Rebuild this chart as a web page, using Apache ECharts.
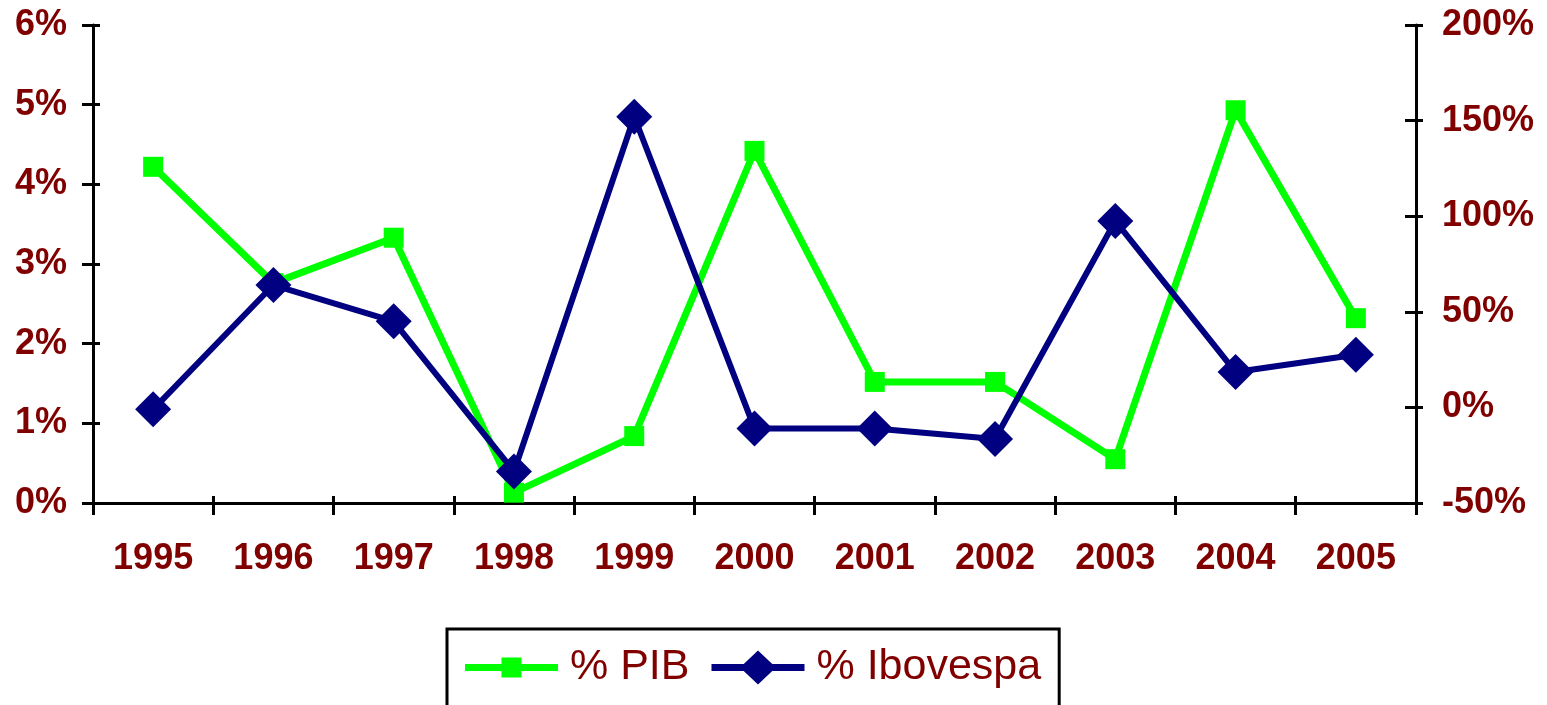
<!DOCTYPE html>
<html>
<head>
<meta charset="utf-8">
<script src="https://cdn.jsdelivr.net/npm/echarts@6/dist/echarts.min.js"></script>
<style>
html,body{margin:0;padding:0;background:#fff;}
#c{width:1547px;height:705px;}
</style>
</head>
<body>
<div id="c"></div>
<script>
const categories = ['1995','1996','1997','1998','1999','2000','2001','2002','2003','2004','2005'];
const pib = [4.22, 2.76, 3.33, 0.13, 0.84, 4.42, 1.52, 1.52, 0.55, 4.93, 2.32];
const ibovespa = [-1, 64, 45, -33.5, 152, -11, -11, -16.5, 97.5, 18.5, 27.5];
const seriesNames = ['% PIB', '% Ibovespa'];

const labelColor = '#800000';
const tickFont = {color: labelColor, fontWeight: 'bold', fontSize: 36, fontFamily: "'Liberation Sans', Arial, sans-serif"};

const iconPib = 'path://M0,6.5H93V13.5H0Z M36.5,0H56.5V20H36.5Z';
const iconIbov = 'path://M0,13.5H93V20.5H0Z M46.5,0L64.5,17L46.5,34L28.5,17Z';

const chart = echarts.init(document.getElementById('c'));
chart.setOption({
  animation: false,
  grid: {left: 93, right: 131, top: 25, bottom: 202, containLabel: false},
  legend: {
    left: 447, top: 629,
    padding: [17, 18, 60, 18],
    borderColor: '#000', borderWidth: 3,
    itemWidth: 93, itemHeight: 34, itemGap: 22,
    symbolKeepAspect: true,
    textStyle: {color: labelColor, fontSize: 43, fontFamily: "'Liberation Sans', Arial, sans-serif", padding: [0, 0, 0, 7]},
    data: [
      {name: seriesNames[0], icon: iconPib},
      {name: seriesNames[1], icon: iconIbov}
    ]
  },
  xAxis: [{
    type: 'category', data: categories, boundaryGap: true,
    axisLine: {lineStyle: {color: '#000', width: 3}},
    axisTick: {show: true, length: 12, interval: 0, lineStyle: {color: '#000', width: 3}},
    axisLabel: Object.assign({margin: 38, interval: 0}, tickFont),
    splitLine: {show: false}
  }, {
    type: 'category', data: categories, boundaryGap: true, position: 'bottom',
    axisLine: {show: false, onZero: false},
    axisTick: {show: true, inside: true, length: 7, interval: 0, lineStyle: {color: '#000', width: 3}},
    axisLabel: {show: false}, splitLine: {show: false}
  }],
  yAxis: [{
    type: 'value', position: 'left', min: 0, max: 6, interval: 1,
    axisLine: {show: true, onZero: false, lineStyle: {color: '#000', width: 3}},
    axisTick: {show: true, length: 11, lineStyle: {color: '#000', width: 3}},
    axisLabel: Object.assign({margin: 26, formatter: '{value}%'}, tickFont),
    splitLine: {show: false}
  }, {
    type: 'value', position: 'right', min: -50, max: 200, interval: 50,
    axisLine: {show: true, onZero: false, lineStyle: {color: '#000', width: 3}},
    axisTick: {show: true, length: 7, lineStyle: {color: '#000', width: 3}},
    axisLabel: Object.assign({margin: 26, formatter: '{value}%'}, tickFont),
    splitLine: {show: false}
  }, {
    type: 'value', position: 'left', min: 0, max: 6, interval: 1,
    axisLine: {show: false, onZero: false},
    axisTick: {show: true, inside: true, length: 7, lineStyle: {color: '#000', width: 3}},
    axisLabel: {show: false}, splitLine: {show: false}
  }, {
    type: 'value', position: 'right', min: -50, max: 200, interval: 50,
    axisLine: {show: false, onZero: false},
    axisTick: {show: true, inside: true, length: 11, lineStyle: {color: '#000', width: 3}},
    axisLabel: {show: false}, splitLine: {show: false}
  }],
  series: [{
    name: seriesNames[0], type: 'line', yAxisIndex: 0, data: pib,
    symbol: 'rect', symbolSize: 20,
    lineStyle: {color: '#00FF00', width: 7},
    itemStyle: {color: '#00FF00'}
  }, {
    name: seriesNames[1], type: 'line', yAxisIndex: 1, data: ibovespa,
    symbol: 'diamond', symbolSize: 36,
    lineStyle: {color: '#000080', width: 6},
    itemStyle: {color: '#000080'}
  }]
});
</script>
</body>
</html>
